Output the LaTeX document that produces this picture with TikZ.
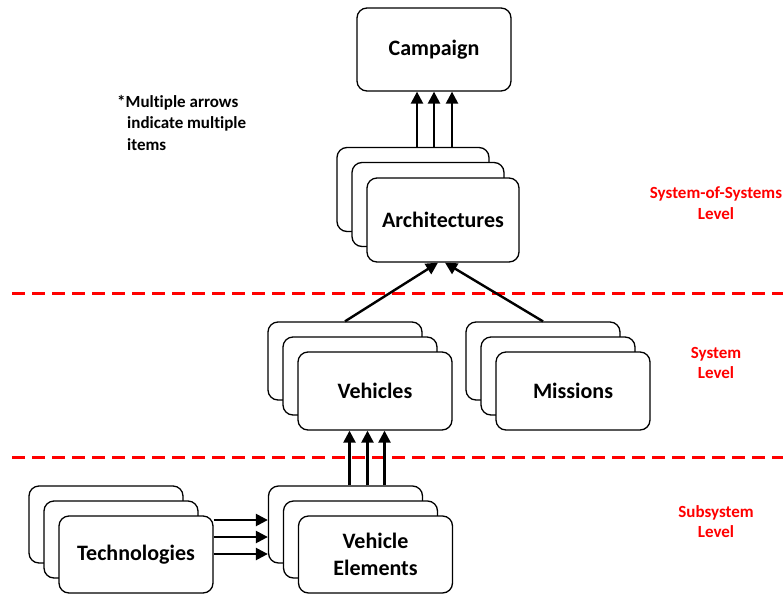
\documentclass[tikz,border=0pt]{standalone}
\usepackage{fontspec}
\setmainfont{Carlito}[Ligatures=NoCommon]
\usetikzlibrary{arrows.meta}
\begin{document}
\begin{tikzpicture}[x=1pt,y=-1pt,
  card/.style={draw, line width=1.3pt, rounded corners=10pt, fill=white,
    inner sep=0pt, minimum width=154pt, minimum height=78pt,
    font=\fontsize{22}{26.5}\selectfont\bfseries, align=center},
  link/.style={line width=2.4pt, -{Triangle[length=12pt,width=12pt]}},
  levelsep/.style={red, line width=3pt, dash pattern=on 13pt off 7pt},
  levellabel/.style={red, font=\fontsize{17}{20.5}\selectfont\bfseries,
    align=center, anchor=base},
]
\useasboundingbox (0,0) rectangle (783,594);

% level separators
\coordinate (sepAL) at (12,293);
\coordinate (sepAR) at (790,293);
\coordinate (sepBL) at (12,457);
\coordinate (sepBR) at (790,457);
\draw[levelsep] (sepAL) -- (sepAR);
\draw[levelsep] (sepBL) -- (sepBR);

% level labels (placed by the baseline of their last line)
\node[levellabel] (lblSoS) at (716,219) {System-of-Systems\\Level};
\node[levellabel] (lblSys) at (716,378.5) {System\\Level};
\node[levellabel] (lblSub) at (716,537.5) {Subsystem\\Level};

% note
\node[font=\fontsize{17}{21.3}\selectfont\bfseries, align=left,
  anchor=base west, inner sep=0pt] (note) at (117,150)
  {*Multiple arrows\\\hspace*{10pt}indicate multiple\\\hspace*{10pt}items};

% campaign
\node[card, minimum height=83pt] (camp) at (434,49.5) {Campaign};

% architectures stack
\node[card, minimum width=152pt, minimum height=84pt] (archA) at (413,189.5) {};
\node[card, minimum width=152pt, minimum height=84pt] (archB) at (428,204.5) {};
\node[card, minimum width=152pt, minimum height=84pt] (archC) at (443,220) {Architectures};

% vehicles stack
\node[card] (vehA) at (345,361) {};
\node[card] (vehB) at (360,376) {};
\node[card] (vehC) at (375,391) {Vehicles};

% missions stack
\node[card] (misA) at (543,361) {};
\node[card] (misB) at (558,376) {};
\node[card] (misC) at (573,391) {Missions};

% technologies stack
\node[card, minimum height=77pt] (techA) at (106,524.5) {};
\node[card, minimum height=77pt] (techB) at (121,539.5) {};
\node[card, minimum height=77pt] (techC) at (136,554.5) {Technologies};

% vehicle elements stack
\node[card, minimum height=77pt] (veA) at (345.5,524.5) {};
\node[card, minimum height=77pt] (veB) at (360.5,539.5) {};
\node[card, minimum height=77pt] (veC) at (375.5,554.5) {Vehicle\\Elements};

% connectors
\foreach \dx in {4,21,39}
  \draw[link] ([xshift=\dx pt]archA.north) -- ([xshift=\dx pt]archA.north |- camp.south);
\draw[link] (vehA.north) -- ([xshift=-5pt]archC.south);
\draw[link] (misA.north) -- ([xshift=2pt]archC.south);
\foreach \dx in {4,22,39}
  \draw[link] ([xshift=\dx pt]veA.north) -- ([xshift=\dx pt]veA.north |- vehC.south);
\foreach \dy in {34.5,17.5,0.5}
  \draw[link] ([yshift=\dy pt]techC.east) -- ([yshift=\dy pt]techC.east -| veA.west);
\end{tikzpicture}
\end{document}
